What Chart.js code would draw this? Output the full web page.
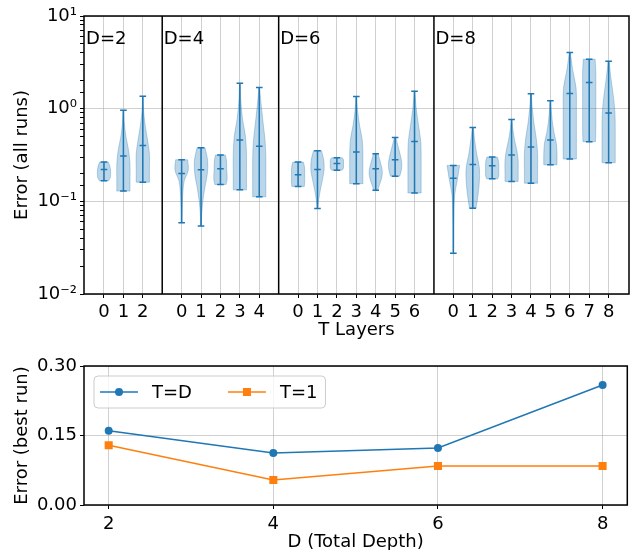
<!DOCTYPE html>
<html>
<head>
<meta charset="utf-8">
<script src="https://cdn.jsdelivr.net/npm/chart.js@4.4.1/dist/chart.umd.min.js"></script>
<style>
  html, body { margin: 0; padding: 0; background: #fff; overflow: hidden; width: 633px; height: 550px; }
  #top { position: absolute; left: 0; top: 0; }
  #bottom { position: absolute; left: 0; top: 345px; }
</style>
</head>
<body>
<canvas id="top" width="633" height="345"></canvas>
<canvas id="bottom" width="633" height="210"></canvas>
<script>
// total depth of each group, T runs from 0 to D
const depths = [2, 4, 6, 8];

// error over all runs, one entry per T layer
const errMin = [
  [0.167, 0.129, 0.161],
  [0.0586, 0.0543, 0.152, 0.133, 0.112],
  [0.145, 0.0836, 0.217, 0.155, 0.132, 0.187, 0.123],
  [0.0275, 0.0844, 0.175, 0.164, 0.157, 0.248, 0.286, 0.44, 0.261],
];
const errMedian = [
  [0.221, 0.308, 0.4],
  [0.2, 0.219, 0.225, 0.459, 0.392],
  [0.193, 0.221, 0.256, 0.34, 0.225, 0.281, 0.443],
  [0.178, 0.25, 0.242, 0.316, 0.385, 0.459, 1.46, 1.92, 0.898],
];
const errMax = [
  [0.265, 0.96, 1.36],
  [0.281, 0.379, 0.316, 1.88, 1.69],
  [0.265, 0.352, 0.295, 1.35, 0.326, 0.49, 1.54],
  [0.244, 0.628, 0.3, 0.766, 1.45, 1.22, 4.03, 3.41, 3.24],
];
// relative violin width from min (first) to max (last)
const violinShape = [
  [
    [0.7, 0.95, 1, 1, 0.95, 0.85, 0.65],
    [1, 1, 1, 0.8, 0.4, 0.15, 0.05],
    [1, 1, 1, 0.7, 0.35, 0.12, 0.04],
  ],
  [
    [0.05, 0.08, 0.12, 0.2, 0.4, 1, 0.9],
    [0.05, 0.12, 0.3, 0.6, 0.95, 1, 0.6],
    [0.85, 1, 1, 0.95, 0.95, 0.9, 0.75],
    [1, 1, 1, 0.85, 0.4, 0.15, 0.05],
    [1, 1, 1, 0.9, 0.6, 0.3, 0.05],
  ],
  [
    [0.95, 1, 1, 1, 1, 0.95, 0.8],
    [0.05, 0.2, 0.45, 0.75, 1, 0.95, 0.6],
    [0.8, 1, 1, 1, 1, 1, 0.8],
    [1, 1, 1, 0.9, 0.5, 0.2, 0.05],
    [0.3, 0.6, 0.9, 1, 0.85, 0.6, 0.35],
    [0.7, 0.95, 1, 0.85, 0.6, 0.35, 0.12],
    [1, 1, 1, 0.95, 0.6, 0.25, 0.05],
  ],
  [
    [0.03, 0.05, 0.06, 0.1, 0.2, 0.6, 0.95],
    [0.5, 0.8, 1, 1, 0.6, 0.3, 0.08],
    [0.85, 1, 1, 1, 1, 0.95, 0.8],
    [1, 1, 1, 0.8, 0.45, 0.2, 0.05],
    [1, 1, 1, 0.8, 0.45, 0.2, 0.05],
    [1, 1, 0.9, 0.55, 0.3, 0.15, 0.05],
    [1, 1, 1, 1, 0.95, 0.45, 0.08],
    [0.95, 1, 1, 1, 1, 1, 0.9],
    [1, 1, 1, 0.95, 0.7, 0.35, 0.08],
  ],
];

// best run error
const bestTD = [0.16, 0.112, 0.123, 0.259];
const bestT1 = [0.129, 0.054, 0.084, 0.084];

const logTicks = [10, 1, 0.1, 0.01];
const logTickLabels = ["10¹", "10⁰", "10⁻¹", "10⁻²"];
const bestTicks = [0, 0.15, 0.3];

const blue = "#1f77b4";
const orange = "#ff7f0e";
const gridColor = "rgba(176,176,176,0.6)";

Chart.defaults.font.family = "DejaVu Sans";
Chart.defaults.font.size = 18;
Chart.defaults.color = "#000";

// x positions: groups side by side, one empty slot between them
const tickPos = [];
const tickLabel = [];
const groupStart = [];
let offset = 0;
depths.forEach((d) => {
  groupStart.push(offset - 1);
  for (let t = 0; t <= d; t++) {
    tickPos.push(offset + t);
    tickLabel.push(String(t));
  }
  offset += d + 2;
});
const separators = groupStart.slice(1);

function smooth(ctx, pts) {
  for (let i = 0; i < pts.length - 1; i++) {
    const p0 = pts[i - 1] || pts[i];
    const p1 = pts[i];
    const p2 = pts[i + 1];
    const p3 = pts[i + 2] || pts[i + 1];
    ctx.bezierCurveTo(
      p1.x + (p2.x - p0.x) / 6, p1.y + (p2.y - p0.y) / 6,
      p2.x - (p3.x - p1.x) / 6, p2.y - (p3.y - p1.y) / 6,
      p2.x, p2.y
    );
  }
}

function drawViolin(ctx, x, y, p, lo, med, hi, shape) {
  const cx = x.getPixelForValue(p);
  const half = x.getPixelForValue(p + 0.34) - cx;
  const cap = x.getPixelForValue(p + 0.17) - cx;
  const n = shape.length;
  const l0 = Math.log10(lo);
  const l1 = Math.log10(hi);
  const right = [];
  const left = [];
  for (let i = 0; i < n; i++) {
    const py = y.getPixelForValue(Math.pow(10, l0 + ((l1 - l0) * i) / (n - 1)));
    right.push({ x: cx + shape[i] * half, y: py });
    left.unshift({ x: cx - shape[i] * half, y: py });
  }
  ctx.beginPath();
  ctx.moveTo(right[0].x, right[0].y);
  smooth(ctx, right);
  ctx.lineTo(left[0].x, left[0].y);
  smooth(ctx, left);
  ctx.closePath();
  ctx.fillStyle = "rgba(31,119,180,0.3)";
  ctx.fill();
  ctx.strokeStyle = "rgba(31,119,180,0.3)";
  ctx.lineWidth = 1;
  ctx.stroke();

  const yLo = y.getPixelForValue(lo);
  const yHi = y.getPixelForValue(hi);
  const yMed = y.getPixelForValue(med);
  ctx.strokeStyle = blue;
  ctx.lineWidth = 1.5;
  ctx.beginPath();
  ctx.moveTo(cx, yLo);
  ctx.lineTo(cx, yHi);
  [yLo, yHi, yMed].forEach((yy) => {
    ctx.moveTo(cx - cap, yy);
    ctx.lineTo(cx + cap, yy);
  });
  ctx.stroke();
}

const violinPlugin = {
  id: "violins",
  afterDatasetsDraw(chart) {
    const { ctx, chartArea, scales } = chart;
    const x = scales.x;
    const y = scales.y;
    ctx.save();
    let k = 0;
    depths.forEach((d, g) => {
      for (let t = 0; t <= d; t++) {
        drawViolin(ctx, x, y, tickPos[k++], errMin[g][t], errMedian[g][t], errMax[g][t], violinShape[g][t]);
      }
      ctx.fillStyle = "#000";
      ctx.font = "18px 'DejaVu Sans'";
      ctx.textAlign = "left";
      ctx.textBaseline = "alphabetic";
      ctx.fillText("D=" + d, x.getPixelForValue(groupStart[g]) + 1.5, y.getPixelForValue(5));
    });
    ctx.strokeStyle = "#000";
    ctx.lineWidth = 1.5;
    ctx.strokeRect(chartArea.left, chartArea.top, chartArea.right - chartArea.left, chartArea.bottom - chartArea.top);
    ctx.restore();
  },
};

const isDecade = (v) => Math.abs(Math.log10(v) - Math.round(Math.log10(v))) < 1e-6;

new Chart(document.getElementById("top"), {
  type: "scatter",
  data: {
    datasets: separators.map((s) => ({
      data: [{ x: s, y: 0.01 }, { x: s, y: 10 }],
      showLine: true,
      borderColor: "#000",
      borderWidth: 1.5,
      pointRadius: 0,
    })),
  },
  options: {
    responsive: false,
    animation: false,
    devicePixelRatio: 1,
    layout: { padding: { top: 16, right: 4, left: 0, bottom: 0 } },
    plugins: { legend: { display: false }, tooltip: { enabled: false } },
    scales: {
      x: {
        type: "linear",
        min: -1.03,
        max: 27.05,
        afterBuildTicks: (scale) => {
          scale.ticks = tickPos.map((v) => ({ value: v }));
        },
        afterFit: (scale) => {
          scale.height = 51;
        },
        ticks: {
          autoSkip: false,
          maxRotation: 0,
          padding: 4,
          callback: (v) => {
            const i = tickPos.indexOf(v);
            return i >= 0 ? tickLabel[i] : "";
          },
        },
        grid: { color: gridColor, lineWidth: 1, tickLength: 4, tickColor: "#000" },
        border: { display: false },
        title: { display: true, text: "T Layers", padding: { top: 0, bottom: 3.5 } },
      },
      y: {
        type: "logarithmic",
        min: 0.01,
        max: 10,
        afterFit: (scale) => {
          scale.width = 84;
        },
        ticks: {
          autoSkip: false,
          padding: 3,
          callback: (v) => {
            const i = logTicks.findIndex((t) => Math.abs(Math.log10(t) - Math.log10(v)) < 1e-6);
            return i >= 0 ? logTickLabels[i] : "";
          },
        },
        grid: {
          color: (c) => (c.tick && isDecade(c.tick.value) ? gridColor : "rgba(0,0,0,0)"),
          lineWidth: 1,
          tickLength: 4,
          tickColor: "#000",
        },
        border: { display: false },
        title: { display: true, text: "Error (all runs)", padding: { top: 12, bottom: 0 } },
      },
    },
  },
  plugins: [violinPlugin],
});

const legendPlugin = {
  id: "boxLegend",
  afterDraw(chart) {
    const { ctx, chartArea } = chart;
    const left = chartArea.left + 10;
    const top = chartArea.top + 10;
    const h = 32;
    const cy = top + h / 2;
    ctx.save();
    ctx.font = "18px 'DejaVu Sans'";
    const items = chart.data.datasets;
    let w = 6;
    items.forEach((ds, i) => {
      w += 38 + 14 + ctx.measureText(ds.label).width + (i < items.length - 1 ? 36 : 8);
    });
    ctx.beginPath();
    ctx.roundRect(left, top, w, h, 4);
    ctx.fillStyle = "rgba(255,255,255,0.8)";
    ctx.fill();
    ctx.strokeStyle = "#cccccc";
    ctx.lineWidth = 1;
    ctx.stroke();
    let xx = left + 6;
    items.forEach((ds) => {
      ctx.strokeStyle = ds.borderColor;
      ctx.lineWidth = 1.5;
      ctx.beginPath();
      ctx.moveTo(xx, cy);
      ctx.lineTo(xx + 38, cy);
      ctx.stroke();
      ctx.fillStyle = ds.borderColor;
      if (ds.pointStyle === "rect") {
        ctx.fillRect(xx + 19 - 4, cy - 4, 8, 8);
      } else {
        ctx.beginPath();
        ctx.arc(xx + 19, cy, 4, 0, Math.PI * 2);
        ctx.fill();
      }
      ctx.fillStyle = "#000";
      ctx.textAlign = "left";
      ctx.textBaseline = "middle";
      ctx.fillText(ds.label, xx + 52, cy + 1);
      xx += 52 + ctx.measureText(ds.label).width + 36;
    });
    ctx.strokeStyle = "#000";
    ctx.lineWidth = 1.5;
    ctx.strokeRect(chartArea.left, chartArea.top, chartArea.right - chartArea.left, chartArea.bottom - chartArea.top);
    ctx.restore();
  },
};

new Chart(document.getElementById("bottom"), {
  type: "scatter",
  data: {
    datasets: [
      {
        label: "T=D",
        data: depths.map((d, i) => ({ x: d, y: bestTD[i] })),
        showLine: true,
        borderColor: blue,
        backgroundColor: blue,
        borderWidth: 1.5,
        pointStyle: "circle",
        pointRadius: 4,
        pointBorderWidth: 0,
      },
      {
        label: "T=1",
        data: depths.map((d, i) => ({ x: d, y: bestT1[i] })),
        showLine: true,
        borderColor: orange,
        backgroundColor: orange,
        borderWidth: 1.5,
        pointStyle: "rect",
        pointRadius: 5.7,
        pointBorderWidth: 0,
      },
    ],
  },
  options: {
    responsive: false,
    animation: false,
    devicePixelRatio: 1,
    layout: { padding: { top: 21, right: 5, left: 0, bottom: 0 } },
    plugins: { legend: { display: false }, tooltip: { enabled: false } },
    scales: {
      x: {
        type: "linear",
        min: 1.7,
        max: 8.3,
        afterBuildTicks: (scale) => {
          scale.ticks = depths.map((v) => ({ value: v }));
        },
        afterFit: (scale) => {
          scale.height = 50;
        },
        ticks: { autoSkip: false, maxRotation: 0, padding: 5, callback: (v) => String(v) },
        grid: { color: gridColor, lineWidth: 1, tickLength: 4, tickColor: "#000" },
        border: { display: false },
        title: { display: true, text: "D (Total Depth)", padding: { top: 0, bottom: 2 } },
      },
      y: {
        min: 0,
        max: 0.3,
        afterBuildTicks: (scale) => {
          scale.ticks = bestTicks.map((v) => ({ value: v }));
        },
        afterFit: (scale) => {
          scale.width = 84;
        },
        ticks: { autoSkip: false, padding: 3, callback: (v) => v.toFixed(2) },
        grid: { color: gridColor, lineWidth: 1, tickLength: 4, tickColor: "#000" },
        border: { display: false },
        title: { display: true, text: "Error (best run)", padding: { top: 12, bottom: 0 } },
      },
    },
  },
  plugins: [legendPlugin],
});
</script>
</body>
</html>
